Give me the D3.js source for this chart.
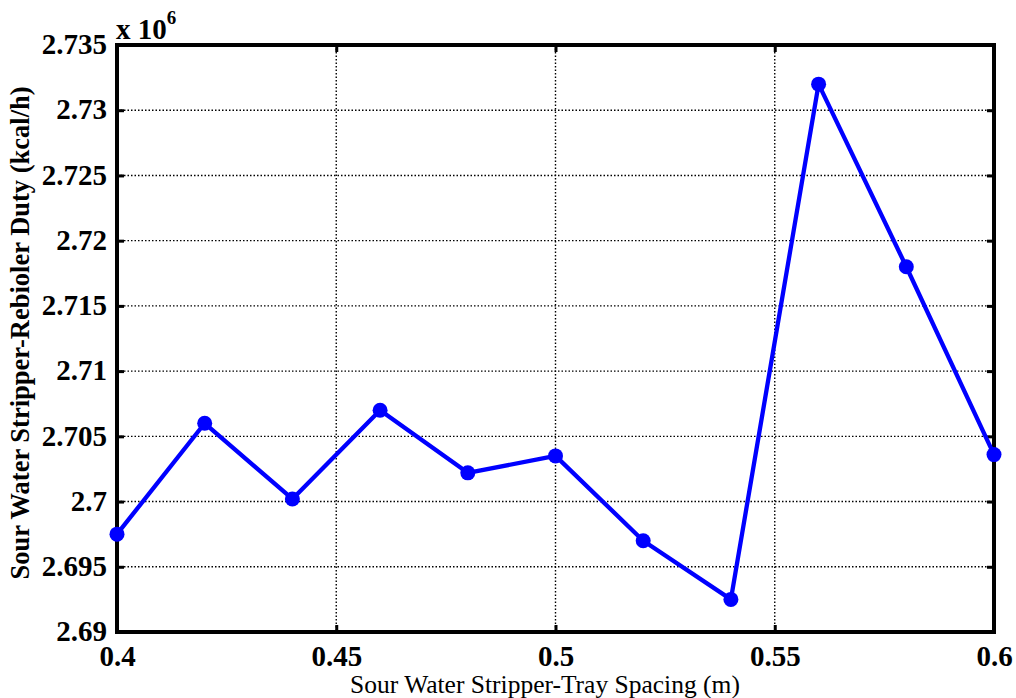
<!DOCTYPE html>
<html><head><meta charset="utf-8">
<script src="https://cdn.jsdelivr.net/npm/d3@7"></script>
<style>body{margin:0;background:#fff}</style>
</head><body><svg id="c" width="1016" height="698"></svg>
<script>
const xValues = [0.40,0.42,0.44,0.46,0.48,0.50,0.52,0.54,0.56,0.58,0.60];
const dutyValues = [2.6975,2.7060,2.7002,2.7070,2.7022,2.7035,2.6970,2.6925,2.7320,2.7180,2.7036];
const xTicks = [0.4,0.45,0.5,0.55,0.6];
const yTicks = [2.69,2.695,2.7,2.705,2.71,2.715,2.72,2.725,2.73,2.735];
const xTickLabels = ["0.4","0.45","0.5","0.55","0.6"];
const yTickLabels = ["2.69","2.695","2.7","2.705","2.71","2.715","2.72","2.725","2.73","2.735"];

const L=117,R=994,T=45,B=632;
const svg=d3.select("#c");
const x=d3.scaleLinear().domain([0.4,0.6]).range([L,R]);
const y=d3.scaleLinear().domain([2.69,2.735]).range([B,T]);
const font="'Liberation Serif','Times New Roman',serif";

// grid
const g=svg.append("g");
g.selectAll(".gx").data(xTicks.slice(1,-1)).enter().append("line")
 .attr("x1",d=>x(d)).attr("x2",d=>x(d)).attr("y1",T).attr("y2",B)
 .attr("stroke","#000").attr("stroke-width",1.4).attr("stroke-dasharray","1.5,2");
g.selectAll(".gy").data(yTicks.slice(1,-1)).enter().append("line")
 .attr("y1",d=>y(d)).attr("y2",d=>y(d)).attr("x1",L).attr("x2",R)
 .attr("stroke","#000").attr("stroke-width",1.4).attr("stroke-dasharray","1.5,2");

// axes with inward ticks
const axB=d3.axisBottom(x).tickValues(xTicks).tickSize(-7).tickFormat((d,i)=>xTickLabels[i]).tickPadding(12);
const axT=d3.axisTop(x).tickValues(xTicks).tickSize(-7).tickFormat("");
const axL=d3.axisLeft(y).tickValues(yTicks).tickSize(-7).tickFormat((d,i)=>yTickLabels[i]).tickPadding(10);
const axR=d3.axisRight(y).tickValues(yTicks).tickSize(-7).tickFormat("");
function style(sel){
  sel.select(".domain").remove();
  sel.selectAll(".tick line").attr("stroke","#000").attr("stroke-width",3);
  sel.selectAll("text").attr("fill","#000").style("font-family",font).style("font-weight","bold").style("font-size","29px");
}
const gb=svg.append("g").attr("transform",`translate(0,${B})`).call(axB).call(style);
gb.selectAll("text").attr("dy","0.75em");
svg.append("g").attr("transform",`translate(0,${T})`).call(axT).call(style);
svg.append("g").attr("transform",`translate(${L},0)`).call(axL).call(style)
  .selectAll("text").attr("dy","0.3em");
svg.append("g").attr("transform",`translate(${R},0)`).call(axR).call(style);

// box
svg.append("rect").attr("x",L).attr("y",T).attr("width",R-L).attr("height",B-T)
 .attr("fill","none").attr("stroke","#000").attr("stroke-width",4);

// line + markers
const pts=xValues.map((v,i)=>[v,dutyValues[i]]);
svg.append("path").datum(pts).attr("fill","none").attr("stroke","#0000ff").attr("stroke-width",4.3)
 .attr("stroke-linejoin","round")
 .attr("d",d3.line().x(d=>x(d[0])).y(d=>y(d[1])));
svg.selectAll(".pt").data(pts).enter().append("circle")
 .attr("cx",d=>x(d[0])).attr("cy",d=>y(d[1])).attr("r",7.5).attr("fill","#0000ff");

// exponent
const ex=svg.append("text").attr("x",116).attr("y",39).style("font-family",font).style("font-weight","bold").style("font-size","29px");
ex.append("tspan").text("x 10");
ex.append("tspan").attr("dy",-15).style("font-size","19px").text("6");

// axis titles
svg.append("text").attr("x",545).attr("y",693).attr("text-anchor","middle")
 .style("font-family",font).style("font-size","25.5px").text("Sour Water Stripper-Tray Spacing (m)");
svg.append("text").attr("transform",`translate(29,333) rotate(-90)`).attr("text-anchor","middle")
 .style("font-family",font).style("font-weight","bold").style("font-size","26.5px").text("Sour Water Stripper-Rebioler Duty (kcal/h)");
</script></body></html>
